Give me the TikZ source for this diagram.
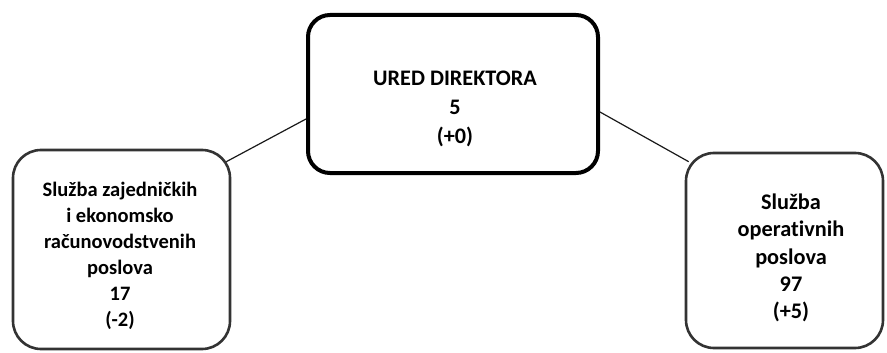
\documentclass[tikz,border=0pt]{standalone}
\usepackage{fontspec}
\setmainfont{Carlito}[Ligatures={NoCommon}]
\usepackage{tikz}
\usetikzlibrary{positioning}
\tikzstyle{mainbox} = [rectangle, rounded corners=22pt, minimum width=290pt, minimum height=158pt, draw=black, line width=4pt]
\tikzstyle{unitbox} = [rectangle, rounded corners=28pt, draw=black!80, line width=2.6pt]
\tikzstyle{boxtext} = [align=center, inner sep=0pt]
\tikzstyle{link} = [line width=1.2pt, draw=black!90]

\begin{document}
\begin{tikzpicture}[x=1pt, y=-1pt]
    \useasboundingbox (0,0) rectangle (887,353);
    \node (ured) [mainbox] at (453,94) {};
    \node (sluzbaZaj) [unitbox, minimum width=217pt, minimum height=199pt] at (121.5,249.5) {};
    \node (sluzbaOp) [unitbox, minimum width=197pt, minimum height=195pt] at (784.5,250.5) {};

    \node (uredTxt) [boxtext, font=\fontsize{22.2}{29}\selectfont\bfseries] at (455,109) {URED DIREKTORA\\5\\(+0)};
    \node (sluzbaZajTxt) [boxtext, font=\fontsize{20.5}{26}\selectfont\bfseries] at (120,256) {Služba zajedničkih\\i ekonomsko\\računovodstvenih\\poslova\\17\\(-2)};
    \node (sluzbaOpTxt) [boxtext, font=\fontsize{22.3}{27.2}\selectfont\bfseries] at (791,258) {Služba\\operativnih\\poslova\\97\\(+5)};

    \draw [link] ([yshift=-25pt]ured.west) -- ([xshift=-5pt, yshift=-13pt]sluzbaZaj.north east);
    \draw [link] ([yshift=-18pt]ured.east) -- ([xshift=4pt, yshift=-10pt]sluzbaOp.north west);
\end{tikzpicture}
\end{document}
